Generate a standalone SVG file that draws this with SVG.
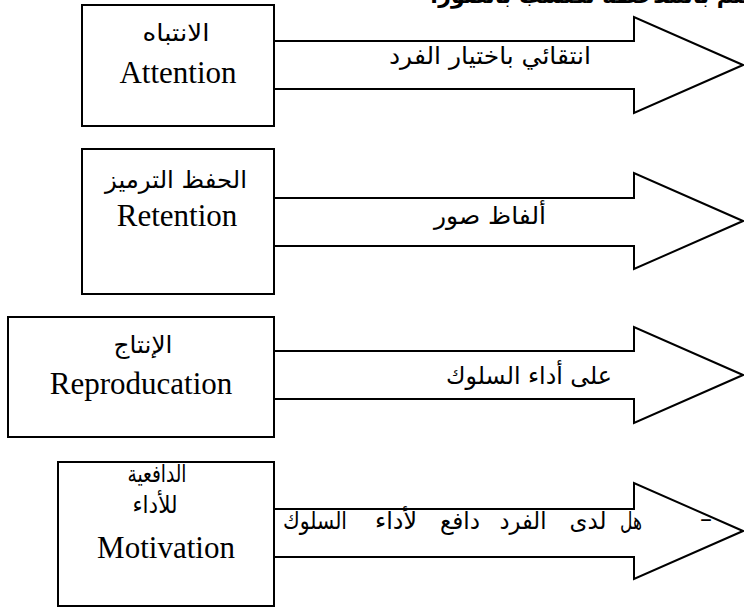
<svg xmlns="http://www.w3.org/2000/svg" width="744" height="607" viewBox="0 0 744 607">
<style>
.box{fill:#fff;stroke:#000;stroke-width:2}
.arr{fill:#fff;stroke:#000;stroke-width:2;stroke-linejoin:miter}
.en{font-family:'Liberation Serif','Times New Roman',serif;font-size:31px;fill:#000;text-anchor:middle}
.ar{font-family:'DejaVu Sans','Noto Sans',sans-serif;font-size:24px;fill:#000;text-anchor:middle}
.ttl{font-family:'DejaVu Sans','Noto Sans',sans-serif;font-size:22px;font-weight:bold;fill:#000}
</style>
<rect width="744" height="607" fill="#fff"/>
<text class="ttl" x="430" y="3" direction="rtl" text-anchor="end">التعلم بالملاحظة تكتسب بالصور،</text>
<g id="connectors">
<g id="arrow1"><polyline class="arr" points="274,41 634,41 634,17 743,65 634,113 634,89 274,89"/>
<text class="ar" x="490" y="64" textLength="202" lengthAdjust="spacingAndGlyphs">انتقائي باختيار الفرد</text></g>
<g id="arrow2"><polyline class="arr" points="274,198 634,198 634,173 743,221 634,269 634,246 274,246"/>
<text class="ar" x="490" y="224" textLength="112" lengthAdjust="spacingAndGlyphs">ألفاظ صور</text></g>
<g id="arrow3"><polyline class="arr" points="274,351 634,351 634,327 743,375 634,423 634,399 274,399"/>
<text class="ar" x="529" y="384" textLength="166" lengthAdjust="spacingAndGlyphs">على أداء السلوك</text></g>
<g id="arrow4"><polyline class="arr" points="274,509 634,509 634,483 743,531 634,579 634,557 274,557"/>
<text class="ar" x="315" y="529" textLength="64" lengthAdjust="spacingAndGlyphs">السلوك</text>
<text class="ar" x="396" y="529" textLength="42" lengthAdjust="spacingAndGlyphs">لأداء</text>
<text class="ar" x="460" y="529" textLength="40" lengthAdjust="spacingAndGlyphs">دافع</text>
<text class="ar" x="523" y="529" textLength="47" lengthAdjust="spacingAndGlyphs">الفرد</text>
<text class="ar" x="588" y="529" textLength="37" lengthAdjust="spacingAndGlyphs">لدى</text>
<text class="ar" x="631" y="529" textLength="22" lengthAdjust="spacingAndGlyphs">هل</text>
<text class="ar" x="706" y="527">–</text></g>
</g>
<g id="node-attention">
<rect class="box" x="82" y="5" width="192" height="121"/>
<text class="ar" x="176" y="41" textLength="67" lengthAdjust="spacingAndGlyphs">الانتباه</text>
<text class="en" x="178" y="83">Attention</text>
</g>
<g id="node-retention">
<rect class="box" x="82" y="149" width="192" height="145"/>
<text class="ar" x="176" y="188" textLength="142" lengthAdjust="spacingAndGlyphs">الحفظ الترميز</text>
<text class="en" x="177" y="226">Retention</text>
</g>
<g id="node-reproduction">
<rect class="box" x="8" y="317" width="266" height="120"/>
<text class="ar" x="143" y="353" textLength="59" lengthAdjust="spacingAndGlyphs">الإنتاج</text>
<text class="en" x="141" y="394">Reproducation</text>
</g>
<g id="node-motivation">
<rect class="box" x="58" y="462" width="216" height="144"/>
<text class="ar" x="157" y="482" textLength="59" lengthAdjust="spacingAndGlyphs">الدافعية</text>
<text class="ar" x="155" y="513" textLength="45" lengthAdjust="spacingAndGlyphs">للأداء</text>
<text class="en" x="166" y="558">Motivation</text>
</g>
</svg>
